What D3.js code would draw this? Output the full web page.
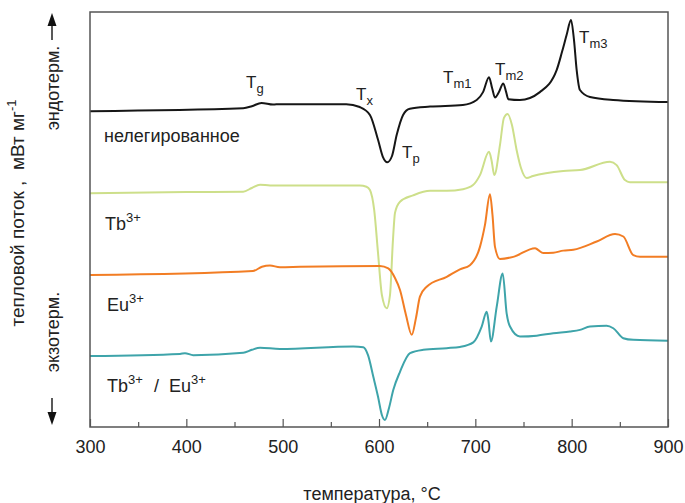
<!DOCTYPE html>
<meta charset="utf-8">
<style>
body {margin: 0; background: #fff;}
text {font-family: "Liberation Sans", Arial, sans-serif; fill: #222;}
.curve {fill: none; stroke-width: 2;}
</style>
<body>
<script src="https://d3js.org/d3.v7.min.js"></script>
<div id="dsc"></div>
</body>

<script>
// DSC curves, temperature (°C) vs heat flow (arb. units, curves offset)
var undoped = [[300,7.61],[459,7.68],[468,7.73],[478,7.81],[490,7.77],[497,7.78],[566,7.78],[580,7.71],
  [590.6,7.52],[599,6.92],[604,6.51],[608.6,6.38],[613.5,6.53],[618.4,7.04],[625,7.52],[632,7.67],
  [653,7.72],[687,7.76],[701.4,7.88],[708,8.07],[714.2,8.43],[717.4,8.17],[720.4,7.94],[724.5,8.07],
  [729,8.28],[732,8.07],[734.2,7.90],[746.3,7.88],[767,8.07],[784.4,8.60],[790,9.04],[794.8,9.45],
  [799.3,9.81],[802.4,9.33],[805.2,8.60],[808.6,8.12],[819,7.95],[843,7.88],[900,7.83]];
var tb = [[300,5.63],[400,5.66],[459,5.67],[468,5.76],[476.5,5.84],[487,5.82],[580,5.82],[587,5.79],
  [590.6,5.71],[595,5.23],[599,4.19],[603,3.18],[608,2.86],[611.4,3.18],[614.5,4.51],[616.6,5.16],
  [621.8,5.43],[635.3,5.58],[653,5.69],[670.3,5.69],[687.2,5.73],[697.6,5.83],[704.8,6.07],[714.2,6.63],
  [716.8,6.43],[719.7,6.07],[725.6,6.80],[729.7,7.45],[733.6,7.54],[738,7.28],[742.9,6.67],[747.4,6.24],
  [753.3,6.00],[759.8,6.05],[791.3,6.17],[808.6,6.19],[839.8,6.39],[846.7,6.31],[855.3,5.95],[860.5,5.90],[900,5.90]];
var eu = [[300,3.66],[469.2,3.76],[478.5,3.86],[486.8,3.89],[497.2,3.85],[518,3.86],[601,3.88],[609.6,3.82],
  [616.6,3.59],[621.8,3.30],[628,2.70],[634,2.22],[638.4,2.63],[642.5,3.14],[649.5,3.38],[670.3,3.62],
  [684,3.80],[694.4,3.90],[704.8,4.34],[710,4.87],[715.2,5.61],[717.8,5.11],[720.4,4.34],[725.6,4.05],
  [739.4,4.10],[762,4.31],[765,4.27],[770.5,4.19],[780.9,4.20],[791.3,4.25],[801.7,4.27],[826,4.47],
  [845,4.65],[853.6,4.59],[864,4.14],[871,4.10],[900,4.10]];
var tbeu = [[300,1.71],[393.4,1.76],[398.6,1.78],[407.2,1.73],[459.1,1.79],[468,1.86],[476.5,1.91],[497.2,1.88],
  [573.3,1.94],[583.7,1.92],[588.6,1.73],[594.1,1.21],[599,0.73],[603,0.29],[606.2,0.17],[610.4,0.46],
  [614.8,0.89],[621.8,1.33],[632.2,1.78],[646,1.86],[670.3,1.90],[684,1.93],[697.9,2.04],[706.6,2.42],
  [711.8,2.78],[713.5,2.58],[716.2,2.06],[722.2,2.90],[728.4,3.70],[732.5,2.74],[736,2.42],[746.3,2.18],
  [763.7,2.20],[780.9,2.26],[798.3,2.30],[808.6,2.34],[819,2.42],[836.3,2.44],[843.2,2.38],[853.6,2.14],
  [864,2.10],[900,2.08]];

var seriesColors = ["#161616", "#cddf8a", "#f27d24", "#3ea4aa"];
var xTicks = [300, 400, 500, 600, 700, 800, 900];

var width = 685, height = 503;
var margin = {left: 90, right: 17, top: 12, bottom: 76};

var x = d3.scaleLinear().domain([300, 900]).range([margin.left, width - margin.right]);
var y = d3.scaleLinear().domain([0, 10]).range([height - margin.bottom, margin.top]);

var svg = d3.select("#dsc").append("svg")
    .attr("width", width)
    .attr("height", height);

var line = d3.line()
    .x(function(d) { return x(d[0]); })
    .y(function(d) { return y(d[1]); })
    .curve(d3.curveMonotoneX);

svg.selectAll("path.curve")
    .data([undoped, tb, eu, tbeu])
    .enter().append("path")
    .attr("class", "curve")
    .attr("d", line)
    .attr("stroke", function(d, i) { return seriesColors[i]; });

// frame
svg.append("rect")
    .attr("x", x(300)).attr("y", y(10))
    .attr("width", x(900) - x(300)).attr("height", y(0) - y(10))
    .attr("fill", "none").attr("stroke", "#555").attr("stroke-width", 1.5);

// bottom axis, ticks pointing inward
var xAxis = svg.append("g")
    .attr("transform", "translate(0," + y(0) + ")")
    .call(d3.axisBottom(x).tickValues(xTicks).tickSize(-8).tickPadding(10).tickFormat(d3.format("d")));
xAxis.select(".domain").remove();
xAxis.selectAll("line").attr("stroke", "#555").attr("stroke-width", 1.2);
xAxis.selectAll("text").style("font-size", "18px").attr("fill", "#222").attr("dy", "0.9em");

svg.append("g")
    .attr("transform", "translate(0," + y(0) + ")")
    .call(d3.axisBottom(x).tickValues(d3.range(350, 900, 100)).tickSize(-5).tickFormat(""))
    .call(function(g) { g.select(".domain").remove(); })
    .selectAll("line").attr("stroke", "#555").attr("stroke-width", 1.2);

svg.append("text")
    .attr("x", 372).attr("y", 500)
    .attr("text-anchor", "middle")
    .style("font-size", "18px")
    .text("температура, °C");

// y title
var yt = svg.append("text")
    .attr("transform", "translate(24,213) rotate(-90)")
    .attr("text-anchor", "middle")
    .style("font-size", "19px")
    .style("white-space", "pre");
yt.append("tspan").text("тепловой поток ,  мВт мг");
yt.append("tspan").attr("dy", -8).style("font-size", "13px").text("-1");

svg.append("text")
    .attr("transform", "translate(59,88) rotate(-90)")
    .attr("text-anchor", "middle").style("font-size", "18px").text("эндотерм.");
svg.append("text")
    .attr("transform", "translate(59,332) rotate(-90)")
    .attr("text-anchor", "middle").style("font-size", "18px").text("экзотерм.");

// arrows
svg.append("line").attr("x1", 52).attr("x2", 52).attr("y1", 40).attr("y2", 24)
    .attr("stroke", "#222").attr("stroke-width", 1.5);
svg.append("path").attr("d", "M52,13 L47.5,26 L56.5,26 Z").attr("fill", "#111");
svg.append("line").attr("x1", 52).attr("x2", 52).attr("y1", 398).attr("y2", 414)
    .attr("stroke", "#222").attr("stroke-width", 1.5);
svg.append("path").attr("d", "M52,425 L47.5,412 L56.5,412 Z").attr("fill", "#111");

// sample labels
function label(xp, yp, parts, size) {
  var t = svg.append("text").attr("x", xp).attr("y", yp).style("font-size", (size || 18) + "px");
  parts.forEach(function(p) {
    var s = t.append("tspan").text(p.t);
    if (p.at !== undefined) s.attr("x", p.at).attr("y", yp);
    if (p.sup) s.attr("dy", -8).style("font-size", "13px");
    if (p.sub) s.attr("dy", 5).style("font-size", "13px");
  });
}
label(104, 142, [{t: "нелегированное"}]);
label(105, 230, [{t: "Tb"}, {t: "3+", sup: true}]);
label(107, 311, [{t: "Eu"}, {t: "3+", sup: true}]);
label(107, 392, [{t: "Tb"}, {t: "3+", sup: true}, {t: "/", at: 154}, {t: "Eu", at: 169}, {t: "3+", sup: true}]);

// transition labels
label(246, 88, [{t: "T"}, {t: "g", sub: true}], 17);
label(356, 100, [{t: "T"}, {t: "x", sub: true}], 17);
label(402, 158, [{t: "T"}, {t: "p", sub: true}], 17);
label(443, 83, [{t: "T"}, {t: "m1", sub: true}], 17);
label(495, 75, [{t: "T"}, {t: "m2", sub: true}], 17);
label(579, 43, [{t: "T"}, {t: "m3", sub: true}], 17);
</script>
